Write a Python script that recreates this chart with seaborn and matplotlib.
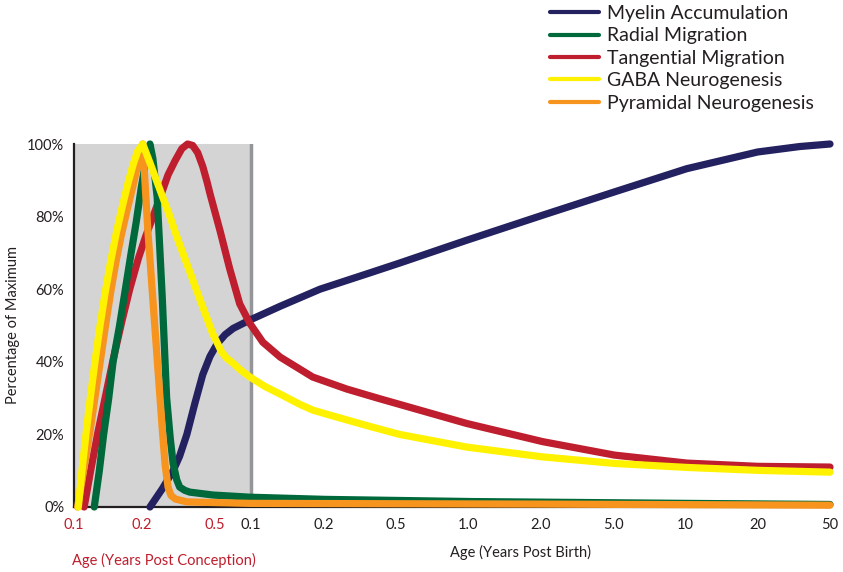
import numpy as np
import pandas as pd
import matplotlib
matplotlib.use("Agg")
import matplotlib.pyplot as plt
from matplotlib.lines import Line2D
import seaborn as sns

# x axis is an ordinal age axis: prenatal ticks (red) then postnatal ticks
tick_pos = [0, 0.94, 1.95, 2.45, 3.45, 4.45, 5.45, 6.45, 7.45, 8.45, 9.45, 10.45]
tick_labels = ["0.1", "0.2", "0.5", "0.1", "0.2", "0.5", "1.0", "2.0", "5.0", "10", "20", "50"]
n_prenatal = 3
birth_pos = 2.45

myelin_x = [1.05, 1.22, 1.37, 1.46, 1.56, 1.67, 1.78, 1.88, 1.98, 2.09, 2.20, 2.43, 2.85,
            3.40, 4.09, 4.50, 5.43, 6.48, 7.47, 8.47, 9.45, 10.03, 10.45]
myelin_y = [0, 5, 10, 14, 20, 28.5, 36.5, 41.5, 45, 47.5, 49.2, 51.5, 55.3,
            60, 64.5, 67.2, 73.5, 80.4, 86.8, 93.2, 97.8, 99.3, 100]

radial_x = [0.28, 0.35, 0.41, 0.48, 0.54, 0.63, 0.71, 0.79, 0.86, 0.93, 0.99, 1.05, 1.09,
            1.15, 1.22, 1.28, 1.33, 1.37, 1.42, 1.46, 1.53, 1.60, 1.92, 2.43, 3.47, 5.51,
            8.44, 10.45]
radial_y = [0, 10, 20, 30, 40, 50, 60, 70, 78.5, 88, 95, 100, 96,
            85.3, 57.7, 30.2, 19, 12, 7.5, 5.5, 4.6, 4.1, 3.3, 2.7, 2.1, 1.5,
            1.0, 0.7]

tangential_x = [0.14, 0.23, 0.33, 0.44, 0.54, 0.66, 0.77, 0.89, 0.99, 1.12, 1.22, 1.30, 1.40,
                1.49, 1.57, 1.64, 1.71, 1.78, 1.84, 1.88, 2.02, 2.15, 2.29, 2.43, 2.61,
                2.85, 3.30, 3.77, 4.23, 4.46, 5.43, 6.48, 7.47, 8.47, 9.45, 10.45]
tangential_y = [0, 10, 20.5, 31, 40.5, 51, 60, 68.5, 74.5, 81.5, 87, 91.5, 95.5,
                98.7, 100, 99.6, 97.6, 93.8, 89.5, 86.3, 76, 65.8, 56, 50.6, 45.4,
                41.3, 35.8, 32.5, 29.8, 28.5, 23, 18, 14.3, 12.1, 11.2, 11]

gaba_x = [0.06, 0.11, 0.165, 0.225, 0.29, 0.36, 0.43, 0.51, 0.59, 0.67, 0.75, 0.82, 0.88,
          0.95, 1.05, 1.19, 1.33, 1.42, 1.60, 1.78, 1.92, 1.98, 2.04, 2.11, 2.20, 2.31,
          2.44, 2.64, 2.85, 3.12, 3.30, 3.54, 3.77, 4.09, 4.50, 5.43, 6.48, 7.47, 8.47,
          9.45, 10.45]
gaba_y = [0, 10, 20, 30, 40, 50, 59, 68, 76, 83, 89.5, 94.5, 98,
          100, 94.8, 87.3, 79.8, 74.5, 64.8, 55.1, 47.6, 45.2, 42.7, 41, 39.6, 37.6,
          35.7, 33.2, 31.1, 28.3, 26.7, 25.3, 24, 22.2, 20, 16.5, 13.8, 12, 10.9,
          10.1, 9.6]

pyramidal_x = [0.05, 0.14, 0.23, 0.30, 0.37, 0.44, 0.51, 0.58, 0.65, 0.73, 0.81, 0.89, 0.95,
               1.02, 1.12, 1.22, 1.26, 1.30, 1.34, 1.40, 1.56, 2.43, 6.44, 10.45]
pyramidal_y = [0, 11, 22, 31.5, 41, 50.5, 59.5, 67.5, 74.5, 81.5, 88, 95, 100,
               76.5, 49, 21.5, 11.5, 5.5, 3.2, 2.2, 1.4, 1.0, 0.8, 0.5]

series = ["Myelin Accumulation", "Radial Migration", "Tangential Migration",
          "GABA Neurogenesis", "Pyramidal Neurogenesis"]
colors = ["#23215f", "#00693c", "#be1e2d", "#fff200", "#f7941e"]
draw_order = [0, 2, 1, 4, 3]

df = pd.concat([
    pd.DataFrame({"x": myelin_x, "y": myelin_y, "process": series[0]}),
    pd.DataFrame({"x": radial_x, "y": radial_y, "process": series[1]}),
    pd.DataFrame({"x": tangential_x, "y": tangential_y, "process": series[2]}),
    pd.DataFrame({"x": gaba_x, "y": gaba_y, "process": series[3]}),
    pd.DataFrame({"x": pyramidal_x, "y": pyramidal_y, "process": series[4]}),
])

sns.set_style("white")
plt.rcParams["font.family"] = ["Lato", "DejaVu Sans"]
ink = "#231f20"
red_txt = "#be1e2d"

fig = plt.figure(figsize=(8.43, 5.72), dpi=100)
ax = fig.add_axes([74 / 843, 65 / 572, 756 / 843, 363 / 572])

ax.axvspan(0, birth_pos, color="#d4d4d4", zorder=0, lw=0)
ax.axvline(birth_pos, color="#939598", lw=2.5, zorder=0.5)

for z, i in enumerate(draw_order):
    name = series[i]
    sns.lineplot(data=df[df["process"] == name], x="x", y="y", ax=ax, color=colors[i],
                 lw=5.2, sort=False, estimator=None, zorder=2 + z)
    ax.lines[-1].set_solid_joinstyle("round")
    ax.lines[-1].set_clip_on(False)

ax.set_xlim(0, 10.45)
ax.set_ylim(0, 100)
ax.set_xticks(tick_pos)
ax.set_xticklabels(tick_labels)
ax.set_yticks([0, 20, 40, 60, 80, 100])
ax.set_yticklabels(["0%", "20%", "40%", "60%", "80%", "100%"])
ax.tick_params(axis="both", direction="in", length=10, width=1.5, color=ink,
               labelsize=10.5, labelcolor=ink)
ax.tick_params(axis="x", pad=8)
ax.tick_params(axis="y", pad=7)
for k, lab in enumerate(ax.get_xticklabels()):
    lab.set_color(red_txt if k < n_prenatal else ink)

sns.despine(ax=ax)
for side in ["left", "bottom"]:
    ax.spines[side].set_color(ink)
    ax.spines[side].set_linewidth(1.6)
    ax.spines[side].set_zorder(1)

ax.set_xlabel("")
ax.set_ylabel("Percentage of Maximum", fontsize=10.5, color=ink, labelpad=5)

fig.text(164 / 843, 1 - 560 / 572, "Age (Years Post Conception)", color=red_txt,
         fontsize=10.5, ha="center", va="center")
fig.text(521 / 843, 1 - 552 / 572, "Age (Years Post Birth)", color=ink,
         fontsize=10.5, ha="center", va="center")

handles = [Line2D([], [], color=c, lw=3) for c in colors]
fig.legend(handles, series, loc="upper left",
           bbox_to_anchor=(548 / 843, 1 - 3 / 572), frameon=False, fontsize=14,
           handlelength=2.5, handletextpad=0.45, labelspacing=0.28, borderpad=0.1,
           borderaxespad=0, labelcolor=ink)

fig.savefig("out.png", dpi=100)
